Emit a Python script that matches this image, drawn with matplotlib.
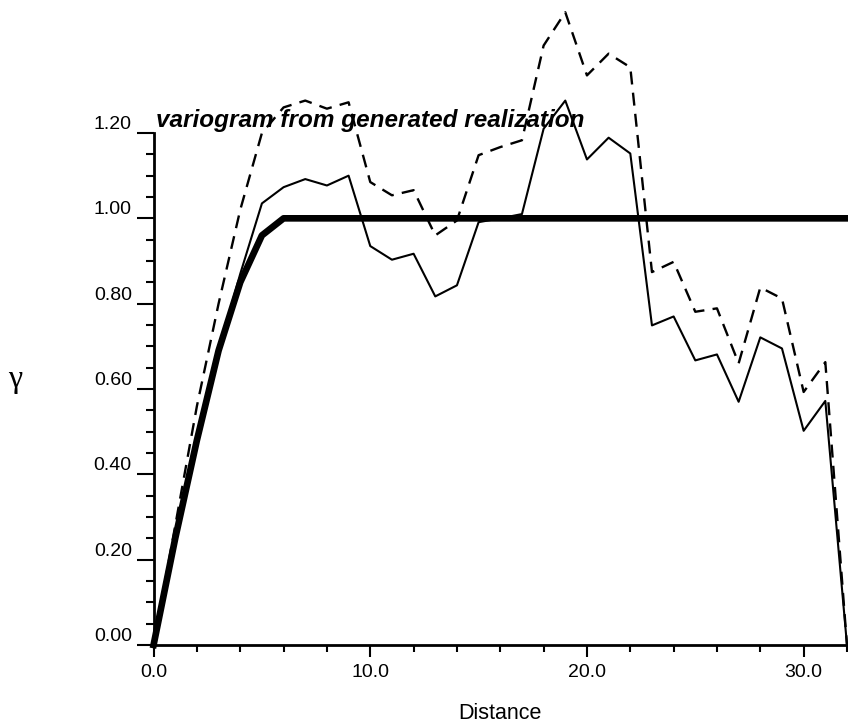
import matplotlib.pyplot as plt
from matplotlib.ticker import MultipleLocator, FixedLocator

# lag distances of the experimental variograms
lags = list(range(0, 33))

# variogram of the generated realization (thin solid)
gamma_real = [0.0, 0.25, 0.48, 0.69, 0.87, 1.035, 1.073, 1.092, 1.077, 1.10,
              0.935, 0.903, 0.917, 0.817, 0.843, 0.991, 1.00, 1.01, 1.21, 1.276,
              1.138, 1.189, 1.152, 0.749, 0.770, 0.667, 0.681, 0.570, 0.721, 0.695,
              0.502, 0.572, 0.0]

# second experimental variogram (dashed)
gamma_dash = [0.0, 0.28, 0.56, 0.80, 1.02, 1.20, 1.26, 1.276, 1.257, 1.272,
              1.085, 1.054, 1.066, 0.96, 0.995, 1.148, 1.167, 1.183, 1.405, 1.483,
              1.335, 1.386, 1.354, 0.874, 0.898, 0.781, 0.789, 0.660, 0.838, 0.812,
              0.593, 0.663, 0.0]

# spherical model, sill 1.0, range 6
model_lags = [0, 1, 2, 3, 4, 5, 6, 32]
model_vals = [0.0, 0.25, 0.48, 0.69, 0.85, 0.96, 1.0, 1.0]

xticks = [0, 10, 20, 30]
xticklabels = ["0.0", "10.0", "20.0", "30.0"]
yticks = [0.0, 0.2, 0.4, 0.6, 0.8, 1.0, 1.2]
yticklabels = ["0.00", "0.20", "0.40", "0.60", "0.80", "1.00", "1.20"]

plt.rcParams['font.family'] = ['Liberation Sans', 'DejaVu Sans']

fig = plt.figure(figsize=(8.48, 7.26), dpi=100)
ax = fig.add_axes([0.1811, 0.1116, 0.8177, 0.7052])

ax.plot(lags, gamma_dash, color="black", lw=1.7, linestyle=(0, (5.5, 3.5)), clip_on=False)
ax.plot(lags, gamma_real, color="black", lw=1.5, clip_on=False)
ax.plot(model_lags, model_vals, color="black", lw=4.8, clip_on=False,
        solid_joinstyle='round')

ax.set_xlim(0, 32)
ax.set_ylim(0, 1.2)

for side in ["top", "right"]:
    ax.spines[side].set_visible(False)
for side in ["left", "bottom"]:
    ax.spines[side].set_linewidth(2.0)

ax.xaxis.set_major_locator(FixedLocator(xticks))
ax.set_xticklabels(xticklabels)
ax.xaxis.set_minor_locator(MultipleLocator(2))
ax.yaxis.set_major_locator(FixedLocator(yticks))
ax.set_yticklabels(yticklabels)
ax.yaxis.set_minor_locator(MultipleLocator(0.05))

ax.tick_params(axis='x', which='major', direction='out', length=8.6, width=1.5,
               pad=5, labelsize=14)
ax.tick_params(axis='x', which='minor', direction='out', length=5, width=1.5)
ax.tick_params(axis='y', which='major', direction='out', length=12.2, width=1.5,
               pad=3.5, labelsize=14)
ax.tick_params(axis='y', which='minor', direction='out', length=5.8, width=1.5)
for lab in ax.get_yticklabels():
    lab.set_verticalalignment('bottom')

ax.set_xlabel("Distance", fontsize=15.5, labelpad=16)
fig.text(15 / 848, 1 - 380 / 726, "γ", fontsize=23,
         family=['Liberation Serif', 'DejaVu Serif'], ha='center', va='center')

ax.text(0.12, 1.214, "variogram from generated realization", fontsize=17.5,
        fontweight='bold', fontstyle='italic', ha='left', va='baseline')

fig.savefig("out.png", dpi=100)
